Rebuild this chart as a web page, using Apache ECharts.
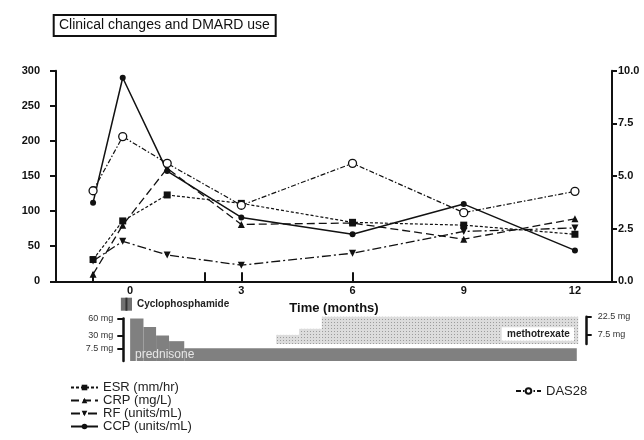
<!DOCTYPE html>
<html>
<head>
<meta charset="utf-8">
<script src="https://cdn.jsdelivr.net/npm/echarts@6/dist/echarts.min.js"></script>
<style>
  html, body { margin: 0; padding: 0; background: #fff; }
  #chart { width: 644px; height: 440px; }
</style>
</head>
<body>
<div id="chart"></div>
<script>
// visit times (months) and lab values
const months = [-1, -0.2, 1, 3, 6, 9, 12]
const esr = [31, 86, 123, 111, 84, 80, 67]
const crp = [10, 80, 161, 81, 83, 60, 89]
const rf = [29, 57, 37.5, 23, 40, 71, 76]
const ccp = [112, 290, 157, 91, 67, 110, 44]
const das28 = [4.3, 6.87, 5.6, 3.61, 5.6, 3.26, 4.27]

const xLabels = [0, 3, 6, 9, 12]
const xTicks = [-1, 2, 3, 6]

// treatment timelines: [start month, end month, dose mg]
const prednisone = [[0, 0.36, 60], [0.36, 0.7, 45], [0.7, 1.05, 30], [1.05, 1.46, 20], [1.46, 12.05, 7.5]]
const prednisoneTicks = [7.5, 30, 60]
const methotrexate = [[3.94, 4.56, 7.5], [4.56, 5.17, 12.5], [5.17, 12.09, 22.5]]
const mtxTicks = [7.5, 22.5]
const cyclophosphamide = [[-0.25, 0.05, 1]]

const ink = '#111'

function pairs (ys) {
  return months.map((m, i) => [m, ys[i]])
}

function dotPattern () {
  const c = document.createElement('canvas')
  c.width = 3
  c.height = 3
  const g = c.getContext('2d')
  g.fillStyle = '#dcdcdc'
  g.fillRect(0, 0, 3, 3)
  g.fillStyle = '#9c9c9c'
  g.fillRect(1, 1, 1, 1)
  return { image: c, repeat: 'repeat' }
}

function stepRender (base, fill) {
  return function (params, api) {
    const a = api.coord([api.value(0), api.value(2)])
    const b = api.coord([api.value(1), base])
    return {
      type: 'rect',
      shape: { x: a[0], y: a[1], width: b[0] - a[0], height: b[1] - a[1] },
      style: { fill: fill }
    }
  }
}

function hiddenX (gridIndex) {
  return { type: 'value', gridIndex: gridIndex, min: -2, max: 13, show: false }
}

const lineBase = {
  type: 'line',
  xAxisIndex: 0,
  color: ink,
  symbolSize: 7,
  itemStyle: { color: ink },
  emphasis: { disabled: true }
}

const myChart = echarts.init(document.getElementById('chart'))
myChart.setOption({
  animation: false,
  textStyle: { fontFamily: 'Liberation Sans, Arial, sans-serif' },
  grid: [
    { left: 56, right: 32, top: 70.7, height: 210.6 },
    { left: 56, right: 32, top: 318.5, height: 42.5 },
    { left: 56, right: 32, top: 316.7, height: 27.3 },
    { left: 56, right: 32, top: 297.7, height: 13 }
  ],
  xAxis: [
    {
      type: 'value',
      gridIndex: 0,
      min: -2,
      max: 13,
      name: 'Time (months)',
      nameLocation: 'middle',
      nameGap: 21,
      nameTextStyle: { fontSize: 13, fontWeight: 'bold', color: ink },
      splitLine: { show: false },
      axisLine: { onZero: false, lineStyle: { color: ink, width: 2 } },
      axisTick: { inside: true, length: 9, customValues: xTicks, lineStyle: { color: ink, width: 2 } },
      axisLabel: { customValues: xLabels, margin: 4, fontSize: 11, fontWeight: 'bold', color: ink }
    },
    hiddenX(1),
    hiddenX(2),
    hiddenX(3)
  ],
  yAxis: [
    {
      type: 'value',
      gridIndex: 0,
      min: 0,
      max: 300,
      interval: 50,
      splitLine: { show: false },
      axisLine: { show: true, onZero: false, lineStyle: { color: ink, width: 2 } },
      axisTick: { show: true, length: 6, lineStyle: { color: ink, width: 2 } },
      axisLabel: { margin: 16, fontSize: 11, fontWeight: 'bold', color: ink }
    },
    {
      type: 'value',
      gridIndex: 0,
      position: 'right',
      min: 0,
      max: 10,
      interval: 2.5,
      splitLine: { show: false },
      axisLine: { show: true, onZero: false, lineStyle: { color: ink, width: 2 } },
      axisTick: { show: true, length: 5, lineStyle: { color: ink, width: 2 } },
      axisLabel: { margin: 6, fontSize: 11, fontWeight: 'bold', color: ink, formatter: v => v.toFixed(1) }
    },
    {
      type: 'value',
      gridIndex: 1,
      min: -15,
      max: 60,
      offset: -67.3,
      splitLine: { show: false },
      axisLine: { show: true, onZero: false, lineStyle: { color: ink, width: 2.5 } },
      axisTick: { show: true, length: 6, customValues: prednisoneTicks, lineStyle: { color: ink, width: 2 } },
      axisLabel: { customValues: prednisoneTicks, margin: 10, fontSize: 9, color: '#333', formatter: v => v + ' mg' }
    },
    {
      type: 'value',
      gridIndex: 2,
      position: 'right',
      min: 0,
      max: 22.5,
      offset: -25.3,
      splitLine: { show: false },
      axisLine: { show: true, onZero: false, lineStyle: { color: ink, width: 2.5 } },
      axisTick: { show: true, length: 5, customValues: mtxTicks, lineStyle: { color: ink, width: 2 } },
      axisLabel: { customValues: mtxTicks, margin: 11, fontSize: 9, color: '#333', formatter: v => v + ' mg' }
    },
    { type: 'value', gridIndex: 3, min: 0, max: 1, show: false }
  ],
  legend: [
    {
      data: ['ESR (mm/hr)', 'CRP (mg/L)', 'RF (units/mL)', 'CCP (units/mL)'],
      orient: 'vertical',
      left: 70,
      top: 381,
      padding: 0,
      itemWidth: 27,
      itemHeight: 7,
      itemGap: 0,
      selectedMode: false,
      textStyle: { fontSize: 13, lineHeight: 13, color: '#222' }
    },
    {
      data: ['DAS28'],
      orient: 'vertical',
      left: 515,
      top: 384.5,
      padding: 0,
      itemWidth: 25,
      itemHeight: 7,
      selectedMode: false,
      textStyle: { fontSize: 13, lineHeight: 13, color: '#222' }
    }
  ],
  series: [
    Object.assign({}, lineBase, {
      name: 'ESR (mm/hr)', yAxisIndex: 0, data: pairs(esr),
      symbol: 'rect', symbolSize: 7,
      lineStyle: { color: ink, width: 1.2, type: [3, 2] }
    }),
    Object.assign({}, lineBase, {
      name: 'CRP (mg/L)', yAxisIndex: 0, data: pairs(crp),
      symbol: 'triangle', symbolSize: 7,
      lineStyle: { color: ink, width: 1.3, type: [8, 4] }
    }),
    Object.assign({}, lineBase, {
      name: 'RF (units/mL)', yAxisIndex: 0, data: pairs(rf),
      symbol: 'triangle', symbolRotate: 180, symbolSize: 7,
      lineStyle: { color: ink, width: 1.3, type: [9, 3, 2, 3] }
    }),
    Object.assign({}, lineBase, {
      name: 'CCP (units/mL)', yAxisIndex: 0, data: pairs(ccp),
      symbol: 'circle', symbolSize: 6,
      lineStyle: { color: ink, width: 1.5 }
    }),
    Object.assign({}, lineBase, {
      name: 'DAS28', yAxisIndex: 1, data: pairs(das28),
      symbol: 'circle', symbolSize: 8,
      itemStyle: { color: '#fff', borderColor: ink, borderWidth: 1.3 },
      lineStyle: { color: ink, width: 1.2, type: [5, 2, 1.5, 2] }
    }),
    {
      type: 'custom',
      name: 'prednisone',
      xAxisIndex: 1,
      yAxisIndex: 2,
      encode: { x: [0, 1], y: 2 },
      renderItem: stepRender(-15, '#808080'),
      data: prednisone
    },
    {
      type: 'custom',
      name: 'methotrexate',
      xAxisIndex: 2,
      yAxisIndex: 3,
      encode: { x: [0, 1], y: 2 },
      renderItem: stepRender(0, dotPattern()),
      data: methotrexate
    },
    {
      type: 'custom',
      name: 'cyclophosphamide',
      xAxisIndex: 3,
      yAxisIndex: 4,
      encode: { x: [0, 1], y: 2 },
      renderItem: function (params, api) {
        const a = api.coord([api.value(0), api.value(2)])
        const b = api.coord([api.value(1), 0])
        const mid = (a[0] + b[0]) / 2
        return {
          type: 'group',
          children: [
            { type: 'rect', shape: { x: a[0], y: a[1], width: b[0] - a[0], height: b[1] - a[1] }, style: { fill: '#707070' } },
            { type: 'rect', shape: { x: mid - 1, y: a[1], width: 2, height: b[1] - a[1] }, style: { fill: '#333' } }
          ]
        }
      },
      data: cyclophosphamide
    }
  ],
  graphic: [
    {
      type: 'rect',
      left: 52.7,
      top: 14,
      shape: { width: 222, height: 21 },
      style: { fill: '#fff', stroke: ink, lineWidth: 2 }
    },
    {
      type: 'text',
      left: 59,
      top: 18,
      style: { text: 'Clinical changes and DMARD use', fontSize: 14, fill: ink, fontFamily: 'Liberation Sans' }
    },
    {
      type: 'text',
      left: 137,
      top: 299,
      style: { text: 'Cyclophosphamide', fontSize: 10, fontWeight: 'bold', fill: '#222', fontFamily: 'Liberation Sans' }
    },
    {
      type: 'text',
      left: 135,
      top: 349,
      z: 10,
      style: { text: 'prednisone', fontSize: 12, fill: '#e6e6e6', fontFamily: 'Liberation Sans' }
    },
    {
      type: 'rect',
      left: 501.7,
      top: 327.3,
      z: 10,
      shape: { width: 72.3, height: 13.4 },
      style: { fill: '#fff' }
    },
    {
      type: 'text',
      left: 507,
      top: 329,
      z: 11,
      style: { text: 'methotrexate', fontSize: 10, fontWeight: 'bold', fill: '#222', fontFamily: 'Liberation Sans' }
    }
  ]
})
</script>
</body>
</html>
